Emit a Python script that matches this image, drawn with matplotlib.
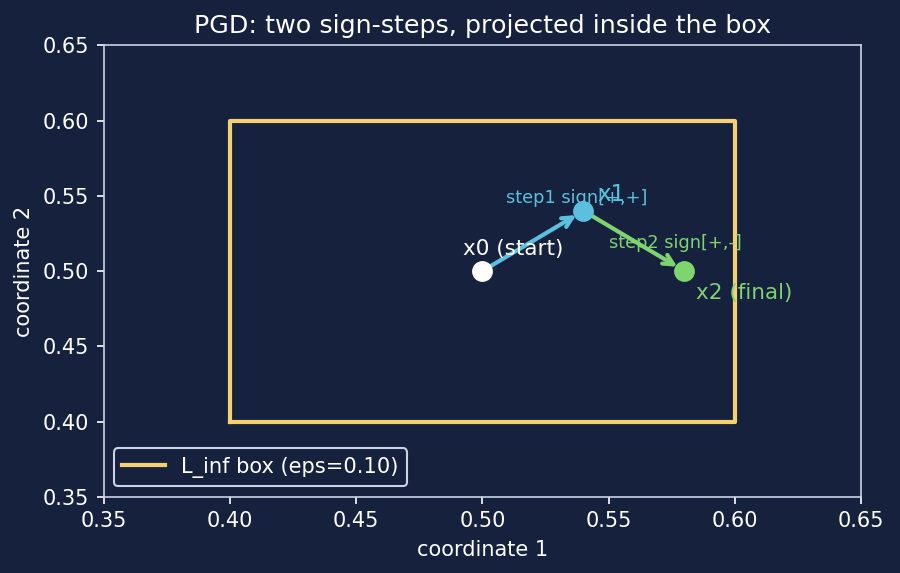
import matplotlib

matplotlib.use("Agg")
import matplotlib.pyplot as plt

BG = "#16213e"
INK = "#ffffff"
SPINE = "#c9d3e3"
BOX = "#f4d06f"
CYAN = "#5bc0de"
GREEN = "#7ed46f"

eps = 0.10
x0 = [0.50, 0.50]
x1 = [0.54, 0.54]
x2 = [0.58, 0.50]
box_x = [0.40, 0.60, 0.60, 0.40, 0.40]
box_y = [0.40, 0.40, 0.60, 0.60, 0.40]
ticks = [0.35, 0.40, 0.45, 0.50, 0.55, 0.60, 0.65]

fig, ax = plt.subplots(figsize=(6, 3.82), dpi=150)
fig.patch.set_facecolor(BG)
ax.set_facecolor(BG)

ax.plot(box_x, box_y, color=BOX, linewidth=2, label=f"L_inf box (eps={eps:.2f})")

ax.annotate("", xy=x1, xytext=x0,
            arrowprops=dict(arrowstyle="->", color=CYAN, lw=2, shrinkA=0, shrinkB=4,
                            mutation_scale=12))
ax.annotate("", xy=x2, xytext=x1,
            arrowprops=dict(arrowstyle="->", color=GREEN, lw=2, shrinkA=0, shrinkB=4,
                            mutation_scale=12))

ax.plot(*x0, "o", color=INK, markersize=9, zorder=4)
ax.plot(*x1, "o", color=CYAN, markersize=9, zorder=4)
ax.plot(*x2, "o", color=GREEN, markersize=9, zorder=4)

ax.text(0.4925, 0.5105, "x0 (start)", color=INK, fontsize=10.3)
ax.text(0.5455, 0.5465, "x1", color=CYAN, fontsize=11)
ax.text(0.5845, 0.4815, "x2 (final)", color=GREEN, fontsize=10.3)
ax.text(0.5375, 0.5485, "step1 sign[+,+]", color=CYAN, fontsize=8.5, ha="center", va="center")
ax.text(0.5765, 0.5185, "step2 sign[+,-]", color=GREEN, fontsize=8.5, ha="center", va="center")

ax.set_xlim(0.35, 0.65)
ax.set_ylim(0.35, 0.65)
ax.set_xticks(ticks)
ax.set_yticks(ticks)
ax.set_xlabel("coordinate 1", color=INK)
ax.set_ylabel("coordinate 2", color=INK)
ax.set_title("PGD: two sign-steps, projected inside the box", color=INK, fontsize=12.2)
ax.tick_params(colors=INK, labelsize=10)
for s in ax.spines.values():
    s.set_color(SPINE)

leg = ax.legend(loc="lower left", facecolor=BG, edgecolor=SPINE, labelcolor=INK, fontsize=10.1)
leg.get_frame().set_alpha(1)

fig.subplots_adjust(left=0.115, right=0.957, top=0.921, bottom=0.133)
fig.savefig("out.png", dpi=150, facecolor=BG)
